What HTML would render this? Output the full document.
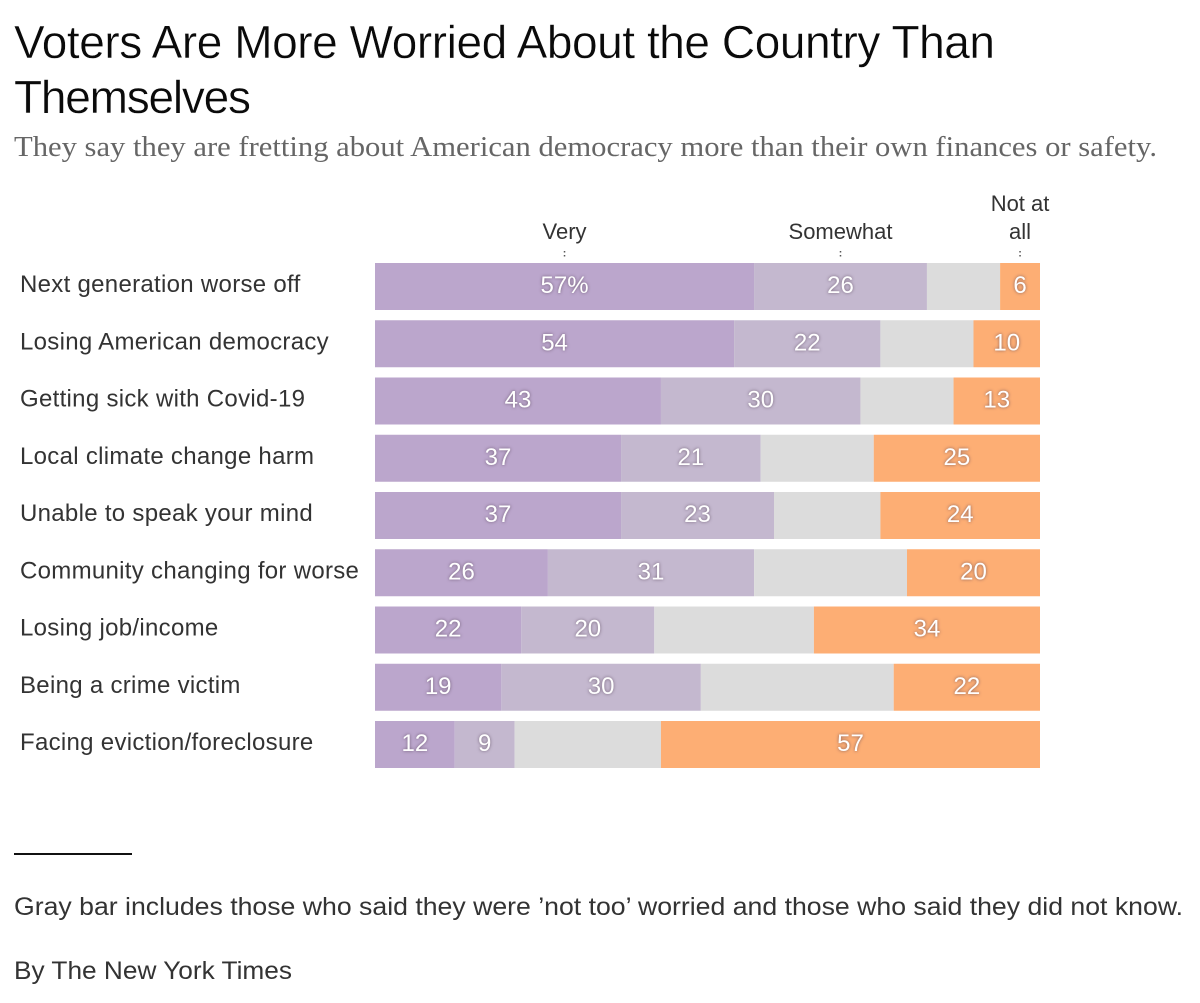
<!DOCTYPE html>
<html lang="en">
<head>
<meta charset="utf-8">
<title>Voters Are More Worried About the Country Than Themselves</title>
<style>
html,body{margin:0;padding:0;background:#fff;}
body{width:1200px;height:1003px;overflow:hidden;}
svg{display:block;}
text{font-family:"Liberation Sans",sans-serif;}
.title{font-size:46px;fill:#0a0a0a;stroke:#fff;stroke-width:.4px;}
.sub{font-family:"Liberation Serif",serif;font-size:29px;fill:#666;}
.cat{font-size:24px;fill:#333;letter-spacing:.3px;}
.head{font-size:22px;fill:#333;text-anchor:middle;}
.val{font-size:24px;fill:#fff;text-anchor:middle;filter:drop-shadow(0 0 1.5px rgba(80,60,80,.7));}
.note{font-size:25px;fill:#333;}
</style>
</head>
<body>
<svg id="chart" width="1200" height="1003" viewBox="0 0 1200 1003" xmlns="http://www.w3.org/2000/svg">
  <text class="title" x="14" y="58" textLength="981" lengthAdjust="spacing">Voters Are More Worried About the Country Than</text>
  <text class="title" x="14" y="113" textLength="237" lengthAdjust="spacing">Themselves</text>
  <text class="sub" x="14" y="156" textLength="1143" lengthAdjust="spacingAndGlyphs">They say they are fretting about American democracy more than their own finances or safety.</text>
  <g id="headers"></g>
  <g id="rows"></g>
  <line x1="14" x2="132" y1="854" y2="854" stroke="#111" stroke-width="2"></line>
  <text class="note" x="14" y="915" textLength="1169" lengthAdjust="spacingAndGlyphs">Gray bar includes those who said they were ’not too’ worried and those who said they did not know.</text>
  <text class="note" x="14" y="979" textLength="278" lengthAdjust="spacingAndGlyphs">By The New York Times</text>
</svg>
<script>
const categories = ["Next generation worse off","Losing American democracy","Getting sick with Covid-19","Local climate change harm","Unable to speak your mind","Community changing for worse","Losing job/income","Being a crime victim","Facing eviction/foreclosure"];
const veryValues = [57,54,43,37,37,26,22,19,12];
const somewhatValues = [26,22,30,21,23,31,20,30,9];
const notTooValues = [11,14,14,17,16,23,24,29,22];
const notAtAllValues = [6,10,13,25,24,20,34,22,57];

const NS = 'http://www.w3.org/2000/svg';
const plotLeft = 375, plotWidth = 665, rowTop = 263, rowStep = 57.25, barHeight = 47;
const xScale = v => plotLeft + v / 100 * plotWidth;
const yScale = i => rowTop + i * rowStep;
const colors = {very:'#bba6cc', somewhat:'#c4b8cf', gray:'#dcdcdc', notAtAll:'#fdae74'};

function make(tag, attrs, parent, text){
  const el = document.createElementNS(NS, tag);
  for (const k in attrs) el.setAttribute(k, attrs[k]);
  if (text !== undefined) el.textContent = text;
  parent.appendChild(el);
  return el;
}

const rowsG = document.getElementById('rows');
categories.forEach((cat, i) => {
  const g = make('g', {}, rowsG);
  
  
  const y = yScale(i);

  const label = make('text', {class:'cat', x:20, y:y + 29}, g, cat);
  
  

  const v = veryValues[i], s = somewhatValues[i], n = notTooValues[i], a = notAtAllValues[i];
  const segs = [
    {key:'very', start:0, val:v, show:true},
    {key:'somewhat', start:v, val:s, show:true},
    {key:'gray', start:v + s, val:n, show:false},
    {key:'notAtAll', start:v + s + n, val:a, show:true}
  ];
  segs.forEach(seg => {
    const x0 = xScale(seg.start), x1 = xScale(seg.start + seg.val);
    const r = make('rect', {x:x0, y:y, width:x1 - x0, height:barHeight, fill:colors[seg.key]}, g);
    
    
    if (seg.show) {
      const txt = (i === 0 && seg.key === 'very') ? seg.val + '%' : String(seg.val);
      const t = make('text', {class:'val', x:(x0 + x1) / 2, y:y + 30}, g, txt);
      
      
    }
  });
});

const headG = document.getElementById('headers');
const midVery = xScale(veryValues[0] / 2);
const midSome = xScale(veryValues[0] + somewhatValues[0] / 2);
const midNot = xScale(100 - notAtAllValues[0] / 2);
[[midVery, ['Very']], [midSome, ['Somewhat']], [midNot, ['Not at', 'all']]].forEach(([x, lines]) => {
  lines.forEach((ln, j) => {
    const t = make('text', {class:'head', x:x, y:239 - (lines.length - 1 - j) * 28}, headG, ln);
    
    
  });
  [251, 255].forEach(dy => {
    const d = make('rect', {x:x - 0.75, y:dy, width:1.5, height:1.5, fill:'#555'}, headG);
    
    
  });
});
</script>
</body>
</html>
